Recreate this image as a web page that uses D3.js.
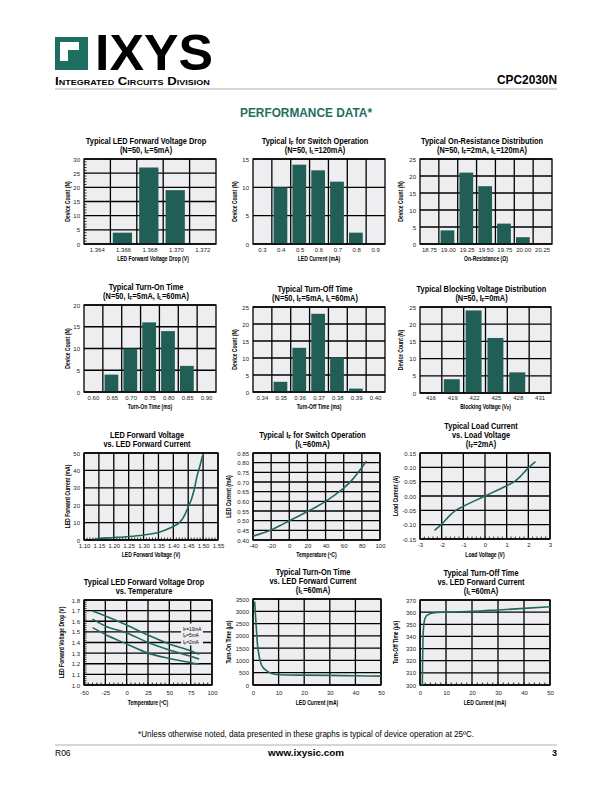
<!DOCTYPE html>
<html><head><meta charset="utf-8">
<script src="https://cdn.jsdelivr.net/npm/d3@7"></script>
<style>
body{margin:0;background:#fff}
svg{display:block}
text{font-family:"Liberation Sans",Arial,Helvetica,sans-serif}
</style>
</head><body>
<svg id="c" width="612" height="792"></svg>
<script>
// ---------------- DATA ----------------
const fvdCats = ["1.364","1.366","1.368","1.370","1.372"];
const fvdCounts = [0,4,27,19,0];
const fvdYTicks = [0,5,10,15,20,25,30];

const ifCats = ["0.3","0.4","0.5","0.6","0.7","0.8","0.9"];
const ifCounts = [0,10,14,13,11,2,0];
const ifYTicks = [0,5,10,15];

const ronCats = ["18.75","19.00","19.25","19.50","19.75","20.00","20.25"];
const ronCounts = [0,4,21,17,6,2,0];
const ronYTicks = [0,5,10,15,20,25];

const tonCats = ["0.60","0.65","0.70","0.75","0.80","0.85","0.90"];
const tonCounts = [0,4,10,16,14,6,0];
const tonYTicks = [0,5,10,15,20];

const toffCats = ["0.34","0.35","0.36","0.37","0.38","0.39","0.40"];
const toffCounts = [0,3,13,23,10,1,0];
const toffYTicks = [0,5,10,15,20,25];

const bvCats = ["416","419","422","425","428","431"];
const bvCounts = [0,4,24,16,6,0];
const bvYTicks = [0,5,10,15,20,25];

const ledFwdV = [1.135,1.15,1.20,1.25,1.30,1.35,1.387,1.40,1.42,1.43,1.44,1.45,1.46,1.47,1.48,1.49,1.498];
const ledFwdI = [0.6,0.9,1.4,2.0,2.9,4.3,6.7,7.8,10,12,15,19,23,29,37,43,48.5];
const ledXTicks = [1.10,1.15,1.20,1.25,1.30,1.35,1.40,1.45,1.50,1.55];
const ledYTicks = [0,10,20,30,40,50];

const swTemp = [-40,-30,-20,-10,0,10,20,30,40,50,60,70,80,85];
const swIf = [0.42,0.435,0.452,0.475,0.50,0.523,0.547,0.572,0.60,0.632,0.668,0.715,0.775,0.808];
const swXTicks = [-40,-20,0,20,40,60,80,100];
const swYTicks = [0.40,0.45,0.50,0.55,0.60,0.65,0.70,0.75,0.80,0.85];

const loadV = [-2.33,-2.0,-1.6,-1.35,-1.0,0,1.0,1.35,1.6,2.0,2.33];
const loadI = [-0.12,-0.098,-0.066,-0.05,-0.036,0,0.036,0.05,0.066,0.098,0.12];
const loadXTicks = [-3,-2,-1,0,1,2,3];
const loadYTicks = [-0.15,-0.10,-0.05,0,0.05,0.10,0.15];

const vfTemp = [-40,-25,0,25,50,75,85];
const vf10mA = [1.696,1.65,1.565,1.47,1.386,1.323,1.29];
const vf5mA = [1.62,1.555,1.49,1.40,1.33,1.27,1.245];
const vf2mA = [1.54,1.476,1.386,1.30,1.25,1.21,1.195];
const vfLegend = ["I_{F}=10mA","I_{F}=5mA","I_{F}=2mA"];
const vfXTicks = [-50,-25,0,25,50,75,100];
const vfYTicks = [1.0,1.1,1.2,1.3,1.4,1.5,1.6,1.7,1.8];

const tonCurI = [0.65,1.0,1.4,1.7,2.2,3,4,5,7,10,20,30,40,50];
const tonCurT = [3400,2800,2150,1700,1300,900,700,610,480,420,400,390,375,360];
const tonXTicks = [0,10,20,30,40,50];
const tonYTicksUs = [0,500,1000,1500,2000,2500,3000,3500];

const toffCurI = [0.9,1.0,1.15,1.35,1.7,2.3,3.2,5,10,20,30,40,50];
const toffCurT = [300,320,338,347,353,356.5,358,359.3,360,360.6,361.8,363.1,364.5];
const toffXTicks = [0,10,20,30,40,50];
const toffYTicksUs = [300,310,320,330,340,350,360,370];

// ---------------- STYLE ----------------
const svg = d3.select("#c");
const PLOT_BG = "#EEEEF0";
const GRID = "#000";
const GW = 1.3;
const BAR = "#215E55";
const LINE = "#22695C";
const TEAL = "#1d6f61";

function txt(g, x, y, str, o) {
  o = Object.assign({size:6, weight:"normal", anchor:"middle", sx:1, rot:0, fill:"#000"}, o);
  const t = g.append("text")
    .attr("transform", `translate(${x},${y})${o.rot ? ` rotate(${o.rot})` : ""} scale(${o.sx},1)`)
    .attr("text-anchor", o.anchor).attr("font-size", o.size)
    .attr("font-weight", o.weight).attr("fill", o.fill);
  if (o.family) t.attr("font-family", o.family);
  if (o.len) t.attr("textLength", o.len).attr("lengthAdjust", "spacingAndGlyphs");
  const parts = str.split(/(_\{[^}]*\})/).filter(p => p !== "");
  let pend = 0;
  parts.forEach(p => {
    if (p.startsWith("_{")) {
      const sh = o.size * 0.17;
      t.append("tspan").attr("font-size", o.size * 0.66).attr("dy", sh + pend).text(p.slice(2, -1));
      pend = -sh;
    } else {
      const ts = t.append("tspan").text(p);
      if (pend) ts.attr("dy", pend);
      pend = 0;
    }
  });
  return t;
}

function decorate(g, c) {
  const cx = (c.x0 + c.x1) / 2 - 4;
  const n = c.title.length;
  c.title.forEach((s, i) => txt(g, cx, c.y0 - 6.5 - (n - 1 - i) * 8.8, s, {size:8.5, weight:"bold", sx:0.87}));
  txt(g, (c.x0 + c.x1) / 2 + (c.xlabDx || 0), c.y1 + c.xlabDy, c.xlab, {size:7, weight:"bold", sx:0.72});
  txt(g, c.x0 + c.ylabDx, (c.y0 + c.y1) / 2, c.ylab, {size:7, weight:"bold", sx:0.72, rot:-90});
}

function styleAxis(ax, kind) {
  ax.select(".domain").remove();
  ax.attr("font-family", null).attr("font-size", null);
  ax.selectAll("text").attr("font-size", 6).attr("fill", "#222")
    .attr("font-family", "Liberation Sans, Arial, sans-serif");
  if (kind === "x") ax.selectAll("text").attr("y", 0).attr("dy", 0);
  else ax.selectAll("text").attr("x", 0).attr("dy", "0.35em");
}

function border(g, c) {
  g.append("rect").attr("x", c.x0).attr("y", c.y0).attr("width", c.x1 - c.x0).attr("height", c.y1 - c.y0)
    .attr("fill", "none").attr("stroke", GRID).attr("stroke-width", GW);
}

function minorX(g, c, x, vals) {
  g.selectAll(null).data(vals).join("line")
    .attr("x1", d => x(d)).attr("x2", d => x(d)).attr("y1", c.y1).attr("y2", c.y1 - 2.5)
    .attr("stroke", GRID).attr("stroke-width", 0.8);
}
function minorY(g, c, y, vals) {
  g.selectAll(null).data(vals).join("line")
    .attr("x1", c.x0).attr("x2", c.x0 + 2.5).attr("y1", d => y(d)).attr("y2", d => y(d))
    .attr("stroke", GRID).attr("stroke-width", 0.8);
}

function barChart(c, cats, vals, yTicks) {
  const g = svg.append("g");
  const x = d3.scaleBand().domain(cats).range([c.x0, c.x1]);
  const y = d3.scaleLinear().domain([yTicks[0], yTicks[yTicks.length - 1]]).range([c.y1, c.y0]);
  g.append("rect").attr("x", c.x0).attr("y", c.y0).attr("width", c.x1 - c.x0).attr("height", c.y1 - c.y0).attr("fill", PLOT_BG);
  g.selectAll(null).data(yTicks).join("line")
    .attr("x1", c.x0).attr("x2", c.x1).attr("y1", d => y(d)).attr("y2", d => y(d))
    .attr("stroke", GRID).attr("stroke-width", GW);
  g.selectAll(null).data(cats.slice(1)).join("line")
    .attr("x1", d => x(d)).attr("x2", d => x(d)).attr("y1", c.y0).attr("y2", c.y1)
    .attr("stroke", GRID).attr("stroke-width", GW);
  const bw = x.bandwidth();
  g.selectAll(null).data(cats.map((k, i) => ({k, v: vals[i]})).filter(d => d.v > 0)).join("rect")
    .attr("x", d => x(d.k) + bw * 0.09).attr("width", bw * 0.73)
    .attr("y", d => y(d.v)).attr("height", d => y(0) - y(d.v)).attr("fill", BAR);
  if (c.minorY) minorY(g, c, y, d3.range(c.minorY[0], c.minorY[1], c.minorY[2]));
  border(g, c);
  const ax = g.append("g").attr("transform", `translate(0,${c.y1 + c.tickDy})`)
    .call(d3.axisBottom(x).tickSize(0).tickPadding(0));
  styleAxis(ax, "x");
  const ay = g.append("g").attr("transform", `translate(${c.x0 - 4},0)`)
    .call(d3.axisLeft(y).tickValues(yTicks).tickFormat(d => String(d)).tickSize(0).tickPadding(0));
  styleAxis(ay, "y");
  decorate(g, c);
}

function lineChart(c, xTicks, yTicks, xFmt, yFmt, series) {
  const g = svg.append("g");
  const x = d3.scaleLinear().domain([xTicks[0], xTicks[xTicks.length - 1]]).range([c.x0, c.x1]);
  const y = d3.scaleLinear().domain([yTicks[0], yTicks[yTicks.length - 1]]).range([c.y1, c.y0]);
  g.append("rect").attr("x", c.x0).attr("y", c.y0).attr("width", c.x1 - c.x0).attr("height", c.y1 - c.y0).attr("fill", PLOT_BG);
  g.selectAll(null).data(yTicks).join("line")
    .attr("x1", c.x0).attr("x2", c.x1).attr("y1", d => y(d)).attr("y2", d => y(d))
    .attr("stroke", GRID).attr("stroke-width", GW);
  g.selectAll(null).data(xTicks).join("line")
    .attr("x1", d => x(d)).attr("x2", d => x(d)).attr("y1", c.y0).attr("y2", c.y1)
    .attr("stroke", GRID).attr("stroke-width", GW);
  if (c.legend) {
    const L = c.legend;
    g.append("rect").attr("x", L.x - 2).attr("y", L.y - 7).attr("width", L.w).attr("height", L.h).attr("fill", PLOT_BG);
    L.items.forEach((s, i) => txt(g, L.x, L.y + i * 6.7, s, {size:5.6, anchor:"start", sx:0.85}));
  }
  if (c.minorX) minorX(g, c, x, d3.range(c.minorX[0], c.minorX[1], c.minorX[2]));
  if (c.minorY) minorY(g, c, y, d3.range(c.minorY[0], c.minorY[1], c.minorY[2]));
  border(g, c);
  const line = d3.line().x(d => x(d[0])).y(d => y(d[1])).curve(d3.curveMonotoneX);
  series.forEach(s => {
    g.append("path").datum(s.xs.map((v, i) => [v, s.ys[i]])).attr("d", line)
      .attr("fill", "none").attr("stroke", LINE).attr("stroke-width", 1.6);
  });
  const ax = g.append("g").attr("transform", `translate(0,${c.y1 + c.tickDy})`)
    .call(d3.axisBottom(x).tickValues(xTicks).tickFormat(xFmt).tickSize(0).tickPadding(0));
  styleAxis(ax, "x");
  const ay = g.append("g").attr("transform", `translate(${c.x0 - 4},0)`)
    .call(d3.axisLeft(y).tickValues(yTicks).tickFormat(yFmt).tickSize(0).tickPadding(0));
  styleAxis(ay, "y");
  decorate(g, c);
}

// ---------------- HEADER ----------------
const hd = svg.append("g");
hd.append("rect").attr("x", 55).attr("y", 37).attr("width", 33).attr("height", 33).attr("fill", TEAL);
hd.append("rect").attr("x", 60).attr("y", 42).attr("width", 19).attr("height", 19).attr("fill", "#fff");
hd.append("rect").attr("x", 68).attr("y", 50).attr("width", 11).attr("height", 11).attr("fill", TEAL);
hd.append("rect").attr("x", 55).attr("y", 64).attr("width", 8).attr("height", 6).attr("fill", TEAL);
// logo word drawn with a vertical stretch so its box stays clear of the line below
const ixys = hd.append("text").attr("font-family", "Liberation Serif, serif").attr("font-weight", "bold")
  .attr("font-size", 36).attr("textLength", 118).attr("lengthAdjust", "spacingAndGlyphs").text("IXYS");
ixys.attr("transform", "translate(95,70) scale(1,1.38)");
// "Integrated Circuits Division" in small caps, scaled to its width
const icd = hd.append("text").attr("font-weight", "bold").attr("font-size", 10)
  .style("font-variant", "small-caps").text("Integrated Circuits Division");
const icdW = icd.node().getComputedTextLength() || 158;
icd.attr("transform", `translate(55,84.5) scale(${158 / icdW},1)`);
txt(hd, 557, 84, "CPC2030N", {size:12, weight:"bold", anchor:"end", len:60});
hd.append("line").attr("x1", 55).attr("x2", 557).attr("y1", 89).attr("y2", 89).attr("stroke", "#9a9a9a").attr("stroke-width", 0.8);
txt(hd, 306, 117, "PERFORMANCE DATA*", {size:12, weight:"bold", fill:TEAL, len:132});

// ---------------- CHARTS ----------------
barChart({x0:84,x1:216,y0:159,y1:244, title:["Typical LED Forward Voltage Drop","(N=50, I_{F}=5mA)"],
  xlab:"LED Forward Voltage Drop (V)", ylab:"Device Count (N)", ylabDx:-14.2, tickDy:8.3, xlabDy:16.8, xlabDx:3, minorY:[1,30,1]},
  fvdCats, fvdCounts, fvdYTicks);
barChart({x0:253,x1:385,y0:159,y1:244, title:["Typical I_{F} for Switch Operation","(N=50, I_{L}=120mA)"],
  xlab:"LED Current (mA)", ylab:"Device Count (N)", ylabDx:-15.7, tickDy:8.3, xlabDy:16.8},
  ifCats, ifCounts, ifYTicks);
barChart({x0:420,x1:552,y0:159,y1:244, title:["Typical On-Resistance Distribution","(N=50, I_{F}=2mA, I_{L}=120mA)"],
  xlab:"On-Resistance (Ω)", ylab:"Device Count (N)", ylabDx:-16.7, tickDy:8.3, xlabDy:16.8},
  ronCats, ronCounts, ronYTicks);

barChart({x0:84,x1:216,y0:305,y1:392, title:["Typical Turn-On Time","(N=50, I_{F}=5mA, I_{L}=60mA)"],
  xlab:"Turn-On Time (ms)", ylab:"Device Count (N)", ylabDx:-13.7, tickDy:7.8, xlabDy:17},
  tonCats, tonCounts, tonYTicks);
barChart({x0:253,x1:385,y0:307,y1:392, title:["Typical Turn-Off Time","(N=50, I_{F}=5mA, I_{L}=60mA)"],
  xlab:"Turn-Off Time (ms)", ylab:"Device Count (N)", ylabDx:-15.7, tickDy:7.8, xlabDy:17},
  toffCats, toffCounts, toffYTicks);
barChart({x0:420,x1:551,y0:307,y1:393, title:["Typical Blocking Voltage Distribution","(N=50, I_{F}=0mA)"],
  xlab:"Blocking Voltage (V_{P})", ylab:"Device Count (N)", ylabDx:-16.7, tickDy:7.3, xlabDy:16},
  bvCats, bvCounts, bvYTicks);

lineChart({x0:84,x1:218,y0:453,y1:540, title:["LED Forward Voltage","vs. LED Forward Current"],
  xlab:"LED Forward Voltage (V)", ylab:"LED Forward Current (mA)", ylabDx:-14, tickDy:7.8, xlabDy:17.3, minorX:[1.11,1.55,0.01]},
  ledXTicks, ledYTicks, d => d.toFixed(2), d => String(d), [{xs:ledFwdV, ys:ledFwdI}]);
lineChart({x0:253,x1:380,y0:453,y1:540, title:["Typical I_{F} for Switch Operation","(I_{L}=60mA)"],
  xlab:"Temperature (ºC)", ylab:"LED Current (mA)", ylabDx:-21.7, tickDy:7.8, xlabDy:17.3},
  swXTicks, swYTicks, d => String(d), d => d.toFixed(2), [{xs:swTemp, ys:swIf}]);
lineChart({x0:420,x1:550,y0:453,y1:539, title:["Typical Load Current","vs. Load Voltage","(I_{F}=2mA)"],
  xlab:"Load Voltage (V)", ylab:"Load Current (A)", ylabDx:-21.7, tickDy:8.2, xlabDy:18, minorX:[-2.8,3,0.2]},
  loadXTicks, loadYTicks, d => String(d), d => d.toFixed(2), [{xs:loadV, ys:loadI}]);

lineChart({x0:84,x1:212,y0:600,y1:685, title:["Typical LED Forward Voltage Drop","vs. Temperature"],
  xlab:"Temperature (ºC)", ylab:"LED Forward Voltage Drop (V)", ylabDx:-19.7, tickDy:10, xlabDy:20,
  minorX:[-45,100,5], minorY:[1.02,1.8,0.02],
  legend:{x:183, y:630.5, w:22, h:22, items:vfLegend}},
  vfXTicks, vfYTicks, d => String(d), d => d.toFixed(1),
  [{xs:vfTemp, ys:vf10mA},{xs:vfTemp, ys:vf5mA},{xs:vfTemp, ys:vf2mA}]);
lineChart({x0:253,x1:381,y0:599,y1:685, title:["Typical Turn-On Time","vs. LED Forward Current","(I_{L}=60mA)"],
  xlab:"LED Current (mA)", ylab:"Turn-On Time (µs)", ylabDx:-21.7, tickDy:10, xlabDy:20},
  tonXTicks, tonYTicksUs, d => String(d), d => String(d), [{xs:tonCurI, ys:tonCurT}]);
lineChart({x0:420,x1:550,y0:600,y1:685, title:["Typical Turn-Off Time","vs. LED Forward Current","(I_{L}=60mA)"],
  xlab:"LED Current (mA)", ylab:"Turn-Off Time (µs)", ylabDx:-21.7, tickDy:10, xlabDy:20, minorX:[2,50,2]},
  toffXTicks, toffYTicksUs, d => String(d), d => String(d), [{xs:toffCurI, ys:toffCurT}]);

// ---------------- FOOTER ----------------
const ft = svg.append("g");
txt(ft, 306, 737, "*Unless otherwise noted, data presented in these graphs is typical of device operation at 25ºC.", {size:8.5, len:336});
ft.append("line").attr("x1", 55).attr("x2", 557).attr("y1", 745).attr("y2", 745).attr("stroke", "#9a9a9a").attr("stroke-width", 0.8);
txt(ft, 55, 756, "R06", {size:8.5, anchor:"start"});
txt(ft, 306, 756, "www.ixysic.com", {size:9, weight:"bold", len:76});
txt(ft, 557, 756, "3", {size:9, weight:"bold", anchor:"end"});
</script>
</body></html>
